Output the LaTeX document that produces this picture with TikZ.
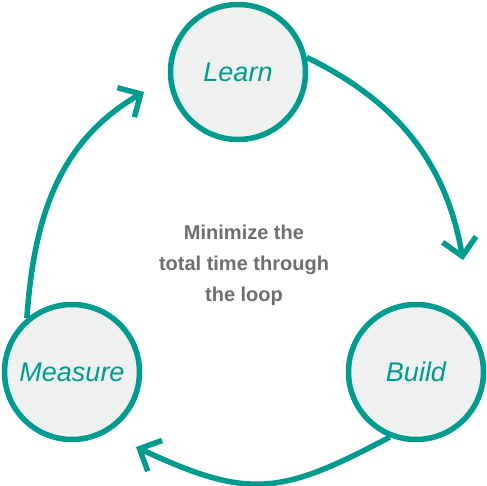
\documentclass[tikz,border=0pt]{standalone}
\usepackage{fontspec}
\setsansfont{Liberation Sans}
\usetikzlibrary{arrows.meta}
\definecolor{loopteal}{HTML}{009B8F}
\definecolor{stagefill}{HTML}{EFF1F0}
\definecolor{notegray}{HTML}{6D6E70}
\tikzset{%
  stage/.style={circle,draw=loopteal,line width=5.5pt,fill=stagefill,
    minimum size=135pt,inner sep=0pt,text=loopteal,
    font=\sffamily\itshape\fontsize{27}{30}\selectfont},
  loop arrow/.style={draw=loopteal,line width=5.5pt,
    -{Straight Barb[length=17pt,width=34pt,line width=5.5pt]}},
  note/.style={align=center,text=notegray,
    font=\sffamily\bfseries\fontsize{20}{31}\selectfont}
}
\begin{document}
\begin{tikzpicture}[x=1pt,y=1pt]

    % canvas of the reference (487 x 485)
    \useasboundingbox (0,0) rectangle (487,485);

    % the three stages of the loop
    \node[stage] (learn) at (238,413) {Learn};
    \node[stage] (build) at (416,113) {Build};
    \node[stage] (measure) at (72,113) {Measure};

    % free ends of the arrows
    \coordinate (tipbuild) at (463,225);
    \coordinate (tipmeasure) at (136,38);
    \coordinate (tiplearn) at (144,393);

    % the arrows round the loop
    \draw[loop arrow] (learn.12) to[out=-26,in=100] (tipbuild);
    \draw[loop arrow] (build.248) to[out=208,in=-25,looseness=1.25] (tipmeasure);
    \draw[loop arrow] (measure.130) to[out=86,in=210] (tiplearn);

    % text in the middle
    \node[note] (goal) at (244,220) {Minimize the\\total time through\\the loop};

\end{tikzpicture}
\end{document}
